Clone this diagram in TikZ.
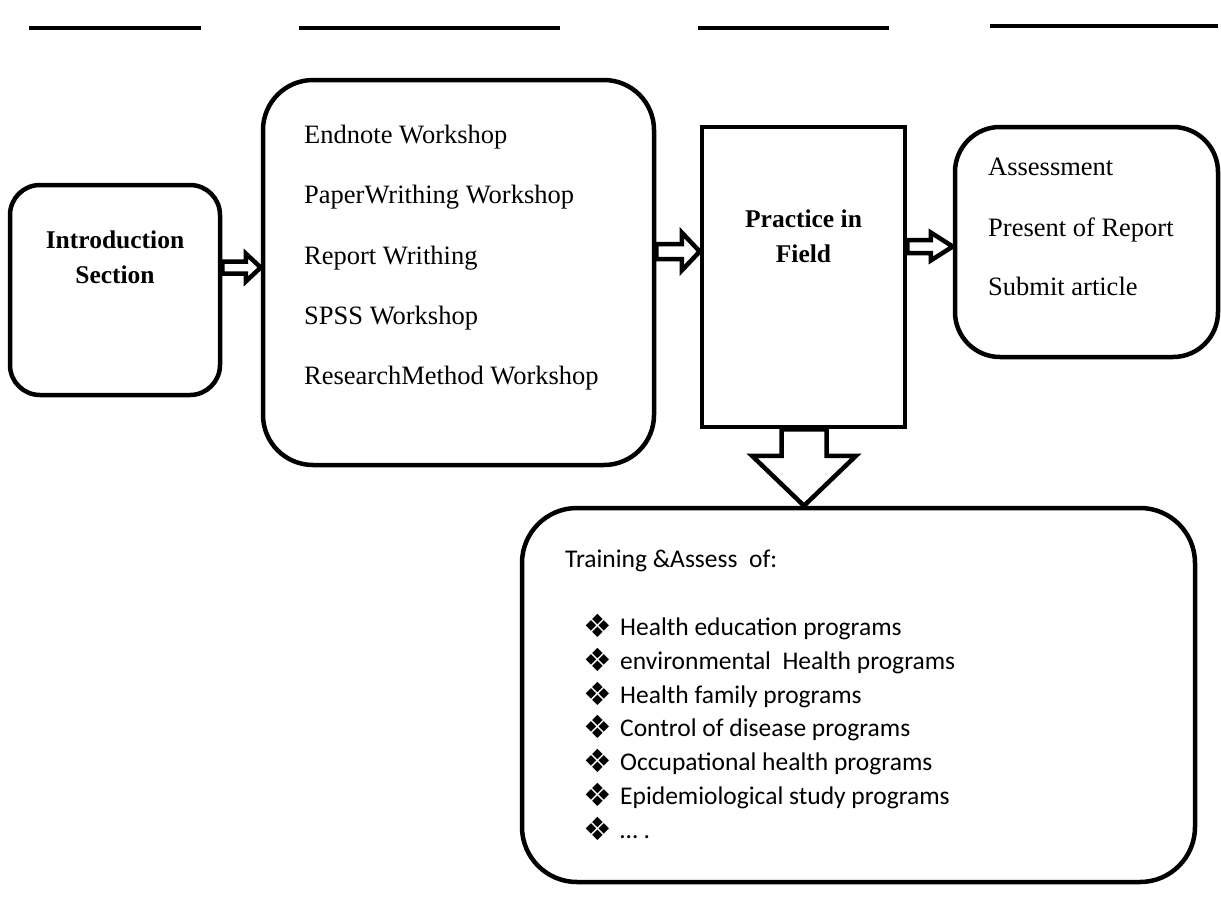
\documentclass[tikz,border=0pt]{standalone}
\usepackage{fontspec}
\setmainfont{Liberation Serif}
\newfontfamily\calfont{Carlito}
\newfontfamily\symfont{DejaVu Sans}
\usetikzlibrary{calc}
\newcommand\hollowright[5]{%
  \draw[harrow] ($(#1)+(0,-#3)$) -- ($(#2)+(-#5,-#3)$) -- ($(#2)+(-#5,-#4)$) -- (#2)
    -- ($(#2)+(-#5,#4)$) -- ($(#2)+(-#5,#3)$) -- ($(#1)+(0,#3)$) -- cycle;}
\newcommand\hollowdown[5]{%
  \draw[harrow] ($(#1)+(-#3,0)$) -- ($(#2)+(-#3,-#5)$) -- ($(#2)+(-#4,-#5)$) -- (#2)
    -- ($(#2)+(#4,-#5)$) -- ($(#2)+(#3,-#5)$) -- ($(#1)+(#3,0)$) -- cycle;}
\begin{document}
\begin{tikzpicture}[x=1pt,y=-1pt,
  boxshape/.style={draw, line width=4.5pt, rectangle, inner sep=0pt},
  harrow/.style={draw, fill=white, line width=4.5pt, line join=miter},
  topline/.style={line width=3.2pt},
  serifbig/.style={font=\fontsize{26.5}{30}\selectfont, anchor=base west, inner sep=0pt},
  serifbold/.style={font=\fontsize{25.5}{30}\bfseries\selectfont, anchor=base, inner sep=0pt},
  caltext/.style={font=\calfont\fontsize{25.5}{30}\selectfont, anchor=base west, inner sep=0pt},
  bullet/.style={font=\symfont\fontsize{32}{36}\selectfont, anchor=base west, inner sep=0pt}]
\useasboundingbox (0,0) rectangle (1221,916);
\fill[white] (0,0) rectangle (1221,916);

% top rules
\draw[topline] (29,28) -- (201,28);
\draw[topline] (299,28) -- (560,28);
\draw[topline] (698,28) -- (889,28);
\draw[topline] (990,26) -- (1218,26);

% boxes
\node[boxshape, rounded corners=30pt, minimum width=210pt, minimum height=210pt] (intro) at (115,290) {};
\node[boxshape, rounded corners=50pt, minimum width=391pt, minimum height=385pt] (work) at (458.5,272.5) {};
\node[boxshape, minimum width=203pt, minimum height=300pt] (practice) at (803.5,277) {};
\node[boxshape, rounded corners=45pt, minimum width=263pt, minimum height=230pt] (assess) at (1086.5,242) {};
\node[boxshape, rounded corners=55pt, minimum width=673pt, minimum height=374pt] (bottom) at (858.5,695) {};

% arrow anchors
\coordinate (r1) at (0,267.5);
\coordinate (r2) at (0,251.5);
\coordinate (r3) at (0,246.5);
\coordinate (a1s) at (intro.east |- r1);
\coordinate (a1t) at (work.west |- r1);
\coordinate (a2s) at (work.east |- r2);
\coordinate (a2t) at (practice.west |- r2);
\coordinate (a3s) at (practice.east |- r3);
\coordinate (a3t) at (assess.west |- r3);
\coordinate (cx) at (804,0);
\coordinate (a4s) at (practice.south -| cx);
\coordinate (a4t) at (bottom.north -| cx);

\hollowright{a1s}{a1t}{6}{14}{15}
\hollowright{a2s}{a2t}{7.5}{19}{18}
\hollowright{a3s}{a3t}{6.5}{14}{22}
\hollowdown{a4s}{a4t}{22.5}{52}{50}

% texts
\node[serifbold] (t1) at (115,248) {Introduction};
\node[serifbold] (t2) at (115,283) {Section};

\node[serifbig] (w1) at (304,143) {Endnote Workshop};
\node[serifbig] (w2) at (304,203) {PaperWrithing Workshop};
\node[serifbig] (w3) at (304,264) {Report Writhing};
\node[serifbig] (w4) at (304,324) {SPSS Workshop};
\node[serifbig] (w5) at (304,384) {ResearchMethod Workshop};

\node[serifbold] (p1) at (803.5,227) {Practice in};
\node[serifbold] (p2) at (803.5,262) {Field};

\node[serifbig] (s1) at (988,175) {Assessment};
\node[serifbig] (s2) at (988,236) {Present of Report};
\node[serifbig] (s3) at (988,295) {Submit article};

\node[caltext] (b0) at (565,567) {Training \&Assess\ \ of:};
\foreach \yy/\txt [count=\i] in {635/Health education programs,
  669/{environmental\ \ Health programs},
  703/Health family programs,
  736/Control of disease programs,
  770/Occupational health programs,
  804/Epidemiological study programs,
  838/{… .}} {
  \node[bullet] (m\i) at (583,\yy+2) {❖};
  \node[caltext] (l\i) at (620,\yy) {\txt};
}
\end{tikzpicture}
\end{document}
